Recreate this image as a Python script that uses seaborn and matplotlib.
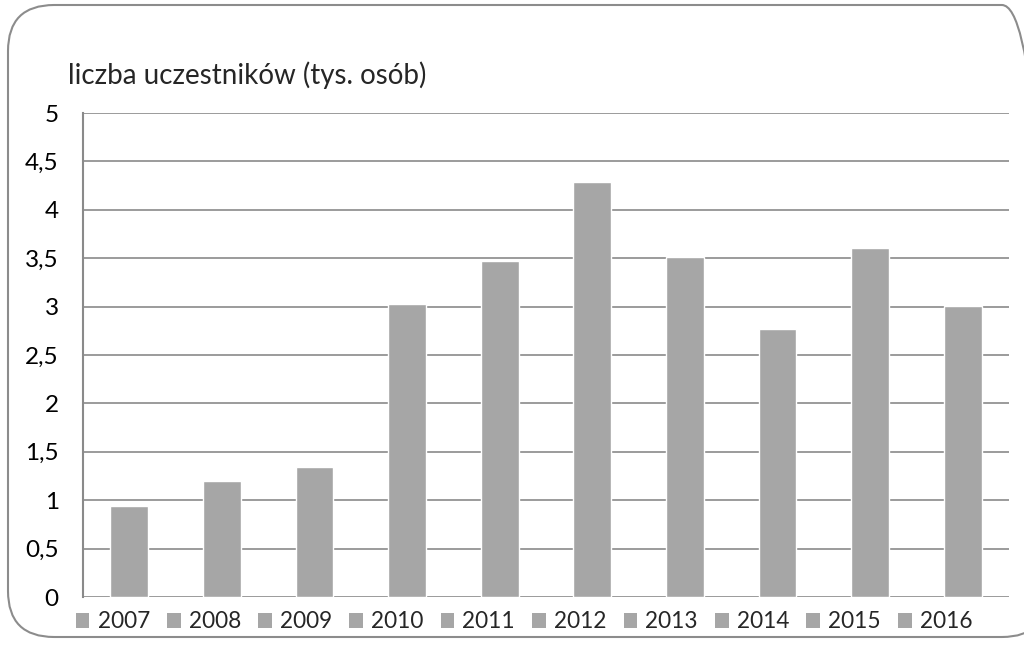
import pandas as pd
import seaborn as sns
import matplotlib.pyplot as plt
from matplotlib.patches import Patch, FancyBboxPatch

# Data
years = ['2007', '2008', '2009', '2010', '2011', '2012', '2013', '2014', '2015', '2016']
values = [0.94, 1.20, 1.34, 3.03, 3.47, 4.29, 3.51, 2.77, 3.61, 3.01]
yticks = [0, 0.5, 1, 1.5, 2, 2.5, 3, 3.5, 4, 4.5, 5]

df = pd.DataFrame({'rok': years, 'liczba': values})

sns.set_style('white')
plt.rcParams['font.family'] = ['Lato', 'DejaVu Sans']

bar_color = '#a6a6a6'
line_color = '#8a8a8a'

fig = plt.figure(figsize=(10.24, 6.45), dpi=100)
ax = fig.add_axes([83 / 1024, 1 - 597 / 645, 926 / 1024, 484 / 645])

sns.barplot(data=df, x='rok', y='liczba', color=bar_color, width=0.41,
            saturation=1, ax=ax)

ax.set_ylim(0, 5)
ax.set_xlim(-0.5, len(years) - 0.5)
ax.set_yticks(yticks)
ax.set_yticklabels([f'{t:g}'.replace('.', ',') for t in yticks])
ax.set_xticks([])
ax.set_xlabel('')
ax.set_ylabel('')

# horizontal gridlines
ax.grid(axis='y', color=line_color, lw=1.2)
ax.set_axisbelow(True)
for s in ['top', 'right', 'bottom']:
    ax.spines[s].set_visible(False)
ax.spines['left'].set_color(line_color)
ax.spines['left'].set_linewidth(1.5)
ax.tick_params(axis='y', length=7.5, width=1.2, color=line_color,
               labelsize=17.5, pad=10, labelcolor='black')

# legend-like category row at the bottom
handles = [Patch(facecolor=bar_color, edgecolor='none', label=y) for y in years]
fig.legend(handles=handles, ncol=len(years), loc='center',
           bbox_to_anchor=(524 / 1024, 1 - 622 / 645), frameon=False,
           fontsize=16.3, handlelength=0.6, handleheight=0.6,
           handletextpad=0.36, columnspacing=0.76, borderpad=0)

# title
fig.text(68 / 1024, 1 - 75 / 645, 'liczba uczestników (tys. osób)',
         fontsize=20, ha='left', va='center')

# rounded chart frame (partly cut by the image edge)
frame = FancyBboxPatch((8 / 1024, 8 / 645), 1040 / 1024, 632 / 645,
                       boxstyle='round,pad=0,rounding_size=0.045',
                       transform=fig.transFigure, facecolor='none',
                       edgecolor='#8c8c8c', lw=1.5, mutation_aspect=1024 / 645)
fig.patches.append(frame)

fig.savefig('out.png', dpi=100)
